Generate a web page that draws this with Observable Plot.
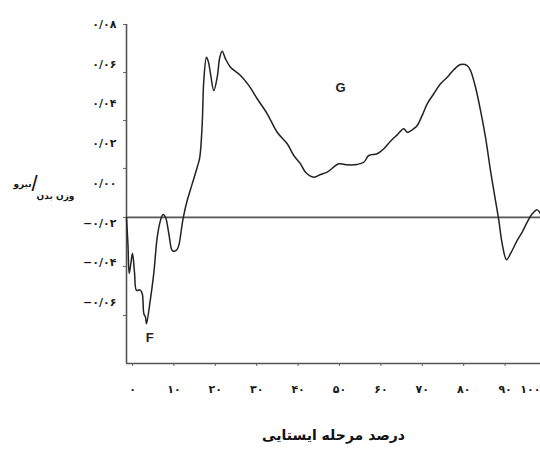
<!DOCTYPE html>
<html>
<head>
<meta charset="utf-8">
<script src="https://cdn.jsdelivr.net/npm/d3@7"></script>
<script src="https://cdn.jsdelivr.net/npm/@observablehq/plot@0.6"></script>
<style>
  html, body { margin: 0; padding: 0; background: #fff; }
  #chart svg { display: block; }
</style>
</head>
<body>
<div id="chart"></div>
<script>
// Stance-phase percentage (x) and force / body weight (y)
const stancePct = [0, 0.36, 0.65, 1.09, 1.45, 1.93, 2.42, 3.21, 3.79, 4.18, 4.59, 4.83, 5.63, 6.59, 7.42, 8.21, 8.82, 9.42, 10.22, 11.04, 11.59, 12.2, 12.63, 13.7, 14.66, 15.87, 17.08, 17.7, 18.29, 18.67, 19.32, 19.81, 20.29, 21.09, 21.91, 22.54, 23.12, 23.91, 25.12, 27.54, 29.54, 31.57, 33.99, 36.4, 38.82, 40.41, 42.03, 43.24, 45.24, 46.86, 48.48, 51.28, 53.31, 55.72, 57.32, 58.53, 60.56, 62.15, 63.77, 65.39, 66.98, 67.8, 69.4, 70.22, 71.43, 72.63, 74.23, 75.85, 77.46, 79.06, 80.68, 82.3, 83.09, 84.3, 85.51, 86.71, 87.92, 89.13, 89.93, 90.75, 91.79, 92.75, 94.37, 95.58, 96.79, 98.0, 99.2, 100];
const forceBW = [-0.0174, -0.0313, -0.0454, -0.0399, -0.0352, -0.0448, -0.054, -0.0537, -0.0555, -0.0656, -0.0675, -0.0708, -0.0606, -0.0454, -0.0272, -0.0187, -0.0157, -0.0171, -0.0253, -0.0339, -0.0342, -0.0334, -0.0313, -0.0174, -0.0087, -0.0003, 0.0081, 0.0131, 0.03, 0.0518, 0.0635, 0.0609, 0.0552, 0.0467, 0.0535, 0.0635, 0.0665, 0.0627, 0.0585, 0.0543, 0.0493, 0.0426, 0.035, 0.0257, 0.0199, 0.014, 0.0098, 0.0056, 0.0031, 0.0044, 0.0056, 0.0098, 0.0093, 0.0095, 0.0106, 0.014, 0.0149, 0.0174, 0.0212, 0.0244, 0.0275, 0.0257, 0.0275, 0.0291, 0.0342, 0.04, 0.0451, 0.0501, 0.0534, 0.0572, 0.0598, 0.0593, 0.0568, 0.0484, 0.0367, 0.0232, 0.0064, -0.0087, -0.0187, -0.0305, -0.0385, -0.0355, -0.0288, -0.0246, -0.0196, -0.0154, -0.0134, -0.0154];

// Axis values
const yLabelValues = [0.08, 0.06, 0.04, 0.02, 0, -0.02, -0.04, -0.06];
const yTickMarks = [0.08, 0.0558, 0.0316, 0.0075, -0.0172, -0.0419, -0.0666];
const xTickValues = [0, 10, 20, 30, 40, 50, 60, 70, 80, 90, 100];
const yDomain = [-0.0908, 0.08];
const referenceLine = [-0.0172];

// Annotations
const annotText = ["F", "G"];
const annotX = [5.6, 51.7];
const annotY = [-0.0777, 0.0483];

const xTitle = "درصد مرحله ایستایی";
const yTitleTop = "نیرو";
const yTitleBottom = "وزن بدن";

const faDigits = "۰۱۲۳۴۵۶۷۸۹";
const toFa = s => String(s).replace(/[0-9]/g, c => faDigits[+c]);
const fmtY = d => (d < 0 ? "−" : "") + toFa("0/" + String(Math.round(Math.abs(d) * 100)).padStart(2, "0"));
const fmtX = d => toFa(d);

const curve = stancePct.map((x, i) => ({x, y: forceBW[i]}));
const annots = annotText.map((t, i) => ({t, x: annotX[i], y: annotY[i]}));

const fa = "'DejaVu Sans', sans-serif";

const chart = Plot.plot({
  width: 540,
  height: 451,
  marginTop: 24,
  marginBottom: 88,
  marginLeft: 126,
  marginRight: 0,
  style: {background: "#fff", color: "#222", fontFamily: fa},
  x: {domain: [0, 100], axis: null},
  y: {domain: yDomain, axis: null},
  marks: [
    // y-axis labels (no tick marks)
    Plot.axisY({ticks: yLabelValues, tickSize: 0, tickPadding: 10, tickFormat: fmtY,
      fontSize: 11, fontWeight: "bold", fill: "#1a1a1a", label: null}),
    // y-axis tick marks
    Plot.axisY({ticks: yTickMarks, tickSize: 3, tickFormat: () => "", stroke: "#666", label: null}),
    // x-axis tick labels and marks
    Plot.axisX({ticks: xTickValues.slice(0, -1), tickSize: 3, tickPadding: 19, dx: 6, tickFormat: fmtX,
      fontSize: 11, fontWeight: "bold", fill: "#1a1a1a", stroke: "#666", label: null}),
    Plot.axisX({ticks: xTickValues.slice(-1), tickSize: 3, tickPadding: 19, textAnchor: "end", tickFormat: fmtX,
      fontSize: 11, fontWeight: "bold", fill: "#1a1a1a", stroke: "#666", label: null}),
    // axis lines
    Plot.ruleX([0], {stroke: "#555", strokeWidth: 1.6}),
    Plot.ruleY([yDomain[0]], {stroke: "#555", strokeWidth: 1.6}),
    // reference line
    Plot.ruleY(referenceLine, {stroke: "#555", strokeWidth: 1.6}),
    // curve
    Plot.line(curve, {x: "x", y: "y", curve: "catmull-rom", stroke: "#222", strokeWidth: 1.5}),
    // annotations
    Plot.text(annots, {x: "x", y: "y", text: "t", fontFamily: "'Liberation Sans', Arial, sans-serif",
      fontWeight: "bold", fontSize: 13, fill: "#222"}),
    // x title
    Plot.text([xTitle], {frameAnchor: "bottom", dy: 72, lineAnchor: "middle", textAnchor: "middle",
      fontSize: 14, fontWeight: "bold", fill: "#111"}),
    // y title
    Plot.text([yTitleTop], {frameAnchor: "left", dx: -104, dy: -10, textAnchor: "middle", lineAnchor: "middle",
      fontSize: 9, fontWeight: "bold", fill: "#111"}),
    Plot.text(["/"], {frameAnchor: "left", dx: -92, dy: -10, textAnchor: "middle", lineAnchor: "middle",
      fontSize: 22, fontWeight: "normal", fontFamily: "'Liberation Sans', sans-serif", fill: "#111"}),
    Plot.text([yTitleBottom], {frameAnchor: "left", dx: -71, dy: 2, textAnchor: "middle", lineAnchor: "middle",
      fontSize: 9, fontWeight: "bold", fill: "#111"})
  ]
});
document.getElementById("chart").appendChild(chart);
</script>
</body>
</html>
